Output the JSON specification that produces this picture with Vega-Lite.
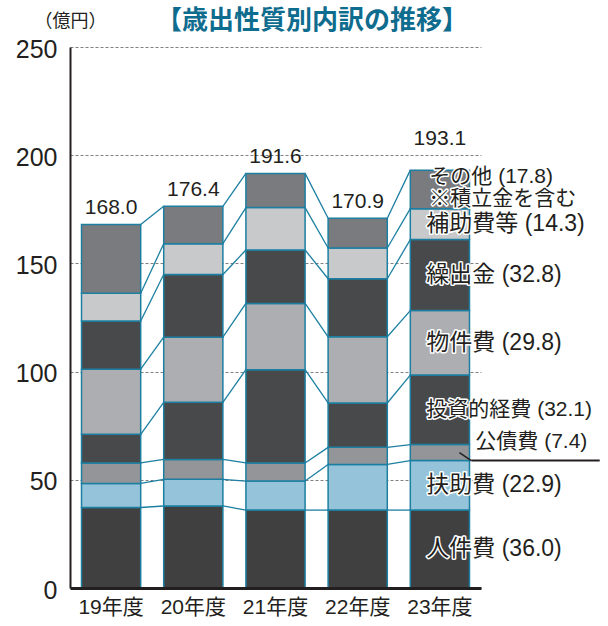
{
  "$schema": "https://vega.github.io/schema/vega-lite/v6.json",
  "autosize": "none",
  "width": 411,
  "height": 541,
  "padding": {"left": 70, "top": 47, "right": 127, "bottom": 38},
  "background": "white",
  "title": {
    "text": "【歳出性質別内訳の推移】",
    "anchor": "start",
    "frame": "group",
    "dx": 86,
    "dy": 28,
    "offset": 6,
    "fontSize": 26,
    "fontWeight": "bold",
    "color": "#0e6c8e",
    "font": "'Noto Sans CJK JP', sans-serif"
  },
  "config": {
    "view": {"stroke": null},
    "font": "'Liberation Sans', 'Noto Sans CJK JP', sans-serif",
    "axisY": {
      "grid": true,
      "gridDash": [3, 2],
      "gridColor": "#808080",
      "gridWidth": 1,
      "domainColor": "#231f20",
      "domainWidth": 2,
      "ticks": false,
      "labelFontSize": 25,
      "labelColor": "#231f20",
      "labelPadding": 13,
      "labelOffset": 2,
      "titleAngle": 0,
      "titleAlign": "center",
      "titleBaseline": "middle",
      "titleX": 0,
      "titleY": -26,
      "titleFontSize": 18,
      "titleFontWeight": "normal",
      "titleColor": "#231f20",
      "titleFont": "'Noto Sans CJK JP', sans-serif"
    },
    "axisX": {
      "grid": false,
      "ticks": false,
      "domainColor": "#231f20",
      "domainWidth": 3,
      "labelFontSize": 21,
      "labelColor": "#231f20",
      "labelPadding": 8,
      "labelAngle": 0
    }
  },
  "data": {
    "values": [
      {"year": "19年度", "cat": "人件費", "value": 37.2},
      {"year": "19年度", "cat": "扶助費", "value": 11.1},
      {"year": "19年度", "cat": "公債費", "value": 9.5},
      {"year": "19年度", "cat": "投資的経費", "value": 13.2},
      {"year": "19年度", "cat": "物件費", "value": 30.1},
      {"year": "19年度", "cat": "繰出金", "value": 22.3},
      {"year": "19年度", "cat": "補助費等", "value": 12.8},
      {"year": "19年度", "cat": "その他", "value": 31.8},
      {"year": "20年度", "cat": "人件費", "value": 37.9},
      {"year": "20年度", "cat": "扶助費", "value": 12.3},
      {"year": "20年度", "cat": "公債費", "value": 9.2},
      {"year": "20年度", "cat": "投資的経費", "value": 26.4},
      {"year": "20年度", "cat": "物件費", "value": 30.1},
      {"year": "20年度", "cat": "繰出金", "value": 29.0},
      {"year": "20年度", "cat": "補助費等", "value": 14.2},
      {"year": "20年度", "cat": "その他", "value": 17.3},
      {"year": "21年度", "cat": "人件費", "value": 36.0},
      {"year": "21年度", "cat": "扶助費", "value": 13.4},
      {"year": "21年度", "cat": "公債費", "value": 8.4},
      {"year": "21年度", "cat": "投資的経費", "value": 43.1},
      {"year": "21年度", "cat": "物件費", "value": 30.6},
      {"year": "21年度", "cat": "繰出金", "value": 24.7},
      {"year": "21年度", "cat": "補助費等", "value": 19.6},
      {"year": "21年度", "cat": "その他", "value": 15.8},
      {"year": "22年度", "cat": "人件費", "value": 36.0},
      {"year": "22年度", "cat": "扶助費", "value": 21.1},
      {"year": "22年度", "cat": "公債費", "value": 7.9},
      {"year": "22年度", "cat": "投資的経費", "value": 20.5},
      {"year": "22年度", "cat": "物件費", "value": 30.6},
      {"year": "22年度", "cat": "繰出金", "value": 26.8},
      {"year": "22年度", "cat": "補助費等", "value": 14.2},
      {"year": "22年度", "cat": "その他", "value": 13.8},
      {"year": "23年度", "cat": "人件費", "value": 36.0},
      {"year": "23年度", "cat": "扶助費", "value": 22.9},
      {"year": "23年度", "cat": "公債費", "value": 7.4},
      {"year": "23年度", "cat": "投資的経費", "value": 32.1},
      {"year": "23年度", "cat": "物件費", "value": 29.8},
      {"year": "23年度", "cat": "繰出金", "value": 32.8},
      {"year": "23年度", "cat": "補助費等", "value": 14.3},
      {"year": "23年度", "cat": "その他", "value": 17.8}
    ]
  },
  "transform": [
    {"calculate": "indexof(['人件費','扶助費','公債費','投資的経費','物件費','繰出金','補助費等','その他'], datum.cat)", "as": "k"},
    {"calculate": "indexof(['19年度','20年度','21年度','22年度','23年度'], datum.year)", "as": "yi"},
    {"window": [{"op": "sum", "field": "value", "as": "top"}], "groupby": ["year"], "sort": [{"field": "k", "order": "ascending"}], "frame": [null, 0]},
    {"calculate": "datum.top - datum.value", "as": "bottom"},
    {"calculate": "datum.top - datum.value / 2", "as": "mid"},
    {"window": [{"op": "lead", "field": "top", "as": "nextTop"}, {"op": "lead", "field": "year", "as": "nextYear"}], "groupby": ["cat"], "sort": [{"field": "yi", "order": "ascending"}], "frame": [null, null]},
    {"calculate": "datum.cat + ' (' + format(datum.value, '.1f') + ')' + (datum.cat == 'その他' ? '\\n※積立金を含む' : '')", "as": "lbl"}
  ],
  "layer": [
    {
      "mark": {"type": "rect", "stroke": "#1c7fa1", "strokeWidth": 1.5},
      "encoding": {
        "x": {"field": "year", "type": "nominal", "title": null, "scale": {"paddingInner": 0.28, "paddingOuter": 0.14}},
        "y": {"field": "bottom", "type": "quantitative", "title": "（億円）", "scale": {"domain": [0, 250], "nice": false}, "axis": {"values": [0, 50, 100, 150, 200, 250]}},
        "y2": {"field": "top"},
        "fill": {
          "field": "cat", "type": "nominal", "legend": null,
          "scale": {
            "domain": ["人件費", "扶助費", "公債費", "投資的経費", "物件費", "繰出金", "補助費等", "その他"],
            "range": ["#404041", "#95c4da", "#939598", "#48494b", "#adaeb1", "#48494b", "#c8c9cb", "#7a7b7e"]
          }
        }
      }
    },
    {
      "transform": [{"filter": "isValid(datum.nextYear)"}],
      "mark": {"type": "rule", "stroke": "#1c7fa1", "strokeWidth": 1.3},
      "encoding": {
        "x": {"field": "year", "type": "nominal", "title": null, "bandPosition": 1},
        "x2": {"field": "nextYear", "bandPosition": 0},
        "y": {"field": "top", "type": "quantitative", "title": "（億円）"},
        "y2": {"field": "nextTop"}
      }
    },
    {
      "transform": [{"filter": "datum.cat == 'その他' && datum.year != '23年度'"}],
      "mark": {"type": "text", "fontSize": 21, "color": "#231f20", "baseline": "middle", "dy": -16},
      "encoding": {
        "x": {"field": "year", "type": "nominal", "title": null},
        "y": {"field": "top", "type": "quantitative", "title": "（億円）"},
        "text": {"field": "top", "type": "quantitative", "format": ".1f"}
      }
    },
    {
      "transform": [{"filter": "datum.cat == 'その他' && datum.year == '23年度'"}],
      "mark": {"type": "text", "fontSize": 21, "color": "#231f20", "baseline": "middle", "dy": -31},
      "encoding": {
        "x": {"field": "year", "type": "nominal", "title": null},
        "y": {"field": "top", "type": "quantitative", "title": "（億円）"},
        "text": {"field": "top", "type": "quantitative", "format": ".1f"}
      }
    },
    {
      "transform": [{"filter": "datum.year == '23年度' && datum.cat != '公債費' && datum.cat != 'その他'"}],
      "mark": {"type": "text", "align": "left", "baseline": "middle", "dx": 16, "stroke": "white", "strokeWidth": 3, "strokeJoin": "round", "fill": "white"},
      "encoding": {
        "x": {"field": "year", "type": "nominal", "title": null, "bandPosition": 0},
        "y": {"field": "mid", "type": "quantitative", "title": "（億円）"},
        "text": {"field": "lbl"},
        "size": {"condition": {"test": "datum.cat == '投資的経費'", "value": 21}, "value": 23}
      }
    },
    {
      "transform": [{"filter": "datum.year == '23年度' && datum.cat != '公債費' && datum.cat != 'その他'"}],
      "mark": {"type": "text", "align": "left", "baseline": "middle", "dx": 16, "fill": "#231f20"},
      "encoding": {
        "x": {"field": "year", "type": "nominal", "title": null, "bandPosition": 0},
        "y": {"field": "mid", "type": "quantitative", "title": "（億円）"},
        "text": {"field": "lbl"},
        "size": {"condition": {"test": "datum.cat == '投資的経費'", "value": 21}, "value": 23}
      }
    },
    {
      "transform": [{"filter": "datum.year == '23年度' && datum.cat == 'その他'"}],
      "mark": {"type": "text", "fontSize": 21, "align": "left", "baseline": "middle", "dx": 19, "dy": -12, "lineBreak": "\n", "lineHeight": 22, "stroke": "white", "strokeWidth": 3, "strokeJoin": "round", "fill": "white"},
      "encoding": {
        "x": {"field": "year", "type": "nominal", "title": null, "bandPosition": 0},
        "y": {"field": "mid", "type": "quantitative", "title": "（億円）"},
        "text": {"field": "lbl"}
      }
    },
    {
      "transform": [{"filter": "datum.year == '23年度' && datum.cat == 'その他'"}],
      "mark": {"type": "text", "fontSize": 21, "align": "left", "baseline": "middle", "dx": 19, "dy": -12, "lineBreak": "\n", "lineHeight": 22, "fill": "#231f20"},
      "encoding": {
        "x": {"field": "year", "type": "nominal", "title": null, "bandPosition": 0},
        "y": {"field": "mid", "type": "quantitative", "title": "（億円）"},
        "text": {"field": "lbl"}
      }
    },
    {
      "transform": [{"filter": "datum.year == '23年度' && datum.cat == '公債費'"}],
      "mark": {"type": "text", "fontSize": 21, "align": "left", "baseline": "middle", "dx": 65, "dy": -19, "fill": "#231f20"},
      "encoding": {
        "x": {"field": "year", "type": "nominal", "title": null, "bandPosition": 0},
        "y": {"field": "bottom", "type": "quantitative", "title": "（億円）"},
        "text": {"field": "lbl"}
      }
    },
    {
      "transform": [{"filter": "datum.year == '23年度' && datum.cat == '公債費'"}],
      "mark": {"type": "rule", "stroke": "#231f20", "strokeWidth": 1.5},
      "encoding": {
        "x": {"field": "year", "type": "nominal", "title": null, "bandPosition": 0.83},
        "x2": {"field": "year", "bandPosition": 1.03},
        "y": {"field": "mid", "type": "quantitative", "title": "（億円）"},
        "y2": {"field": "bottom"}
      }
    },
    {
      "transform": [{"filter": "datum.year == '23年度' && datum.cat == '公債費'"}],
      "mark": {"type": "rule", "stroke": "#231f20", "strokeWidth": 2},
      "encoding": {
        "x": {"field": "year", "type": "nominal", "title": null, "bandPosition": 1.03},
        "x2": {"field": "year", "bandPosition": 3.2},
        "y": {"field": "bottom", "type": "quantitative", "title": "（億円）"}
      }
    }
  ]
}
